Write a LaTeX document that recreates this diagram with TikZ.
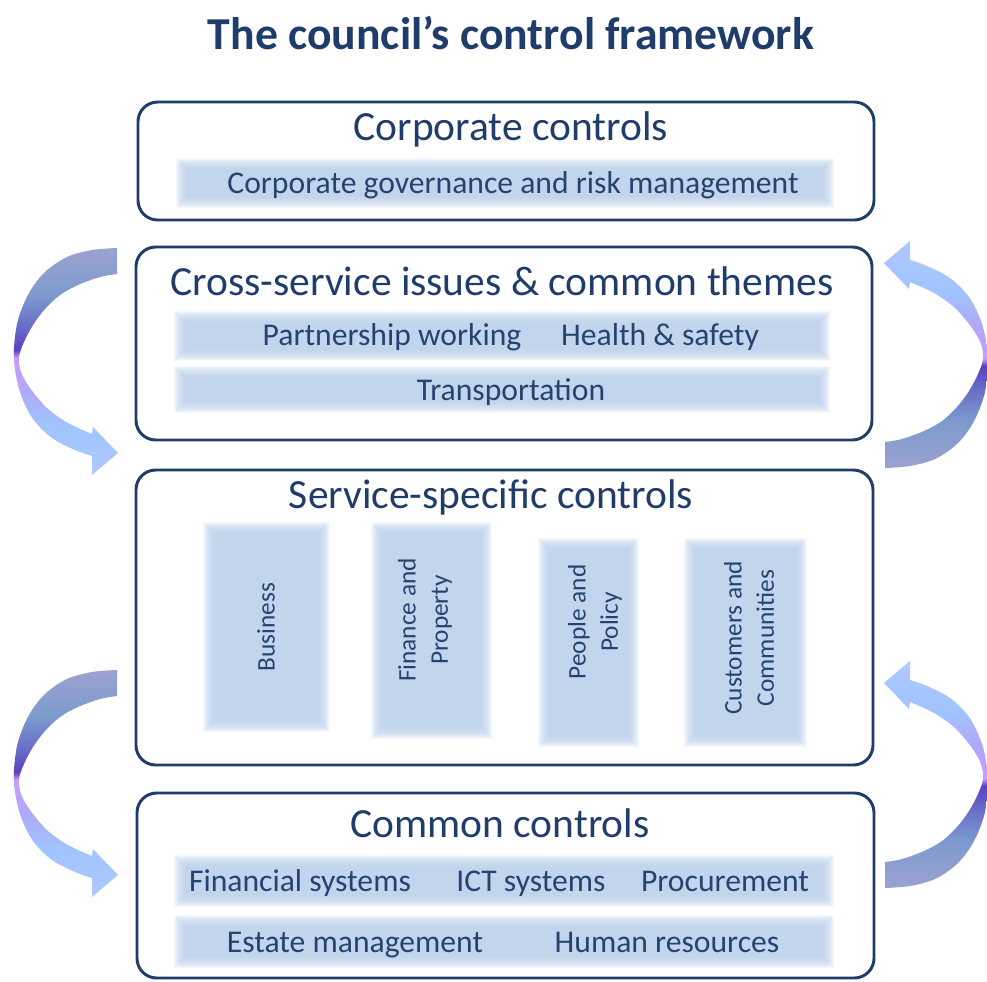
\documentclass[tikz,border=0pt]{standalone}
\usepackage{fontspec}
\setmainfont{Carlito}
\usetikzlibrary{fit}

\definecolor{navy}{HTML}{1F3C6B}
\definecolor{bartxt}{HTML}{26436F}
\definecolor{barblue}{HTML}{BBD0ED}
% colours along the cycle arrows, tail to head
\definecolor{cA}{HTML}{9CA2D0}
\definecolor{cB}{HTML}{7C9ACE}
\definecolor{cC}{HTML}{6A70C8}
\definecolor{cD}{HTML}{5C40C0}
\definecolor{cE}{HTML}{CC9CF8}
\definecolor{cF}{HTML}{B0A8F8}
\definecolor{cG}{HTML}{A0C4FF}
\definecolor{cH}{HTML}{B0C8FF}

% downward arrows: tail colour on top
\pgfdeclareverticalshading{cycledown}{100bp}{%
  color(0bp)=(cH); color(25bp)=(cH); color(36bp)=(cG); color(43.7bp)=(cF);
  color(50.8bp)=(cE); color(52.5bp)=(cD); color(58bp)=(cC); color(64.6bp)=(cB);
  color(75bp)=(cA); color(100bp)=(cA)}
% upward arrows: tail colour at the bottom
\pgfdeclareverticalshading{cycleup}{100bp}{%
  color(0bp)=(cA); color(25bp)=(cA); color(35.4bp)=(cB); color(42bp)=(cC);
  color(47.5bp)=(cD); color(49.2bp)=(cE); color(56.3bp)=(cF); color(64bp)=(cG);
  color(75bp)=(cH); color(100bp)=(cH)}

% soft-edged light blue band, corners given as (x1,y1) (x2,y2) with y measured downwards
\newcommand\softbar[4]{%
  \foreach \s in {0,1,...,11}{%
    \fill[barblue,opacity=0.14] ({#1+\s},{-#2-\s}) rectangle ({#3-\s},{-#4+\s});}}

% curved arrow running down the left side of a pair of panels,
% pinched where it is furthest out
\newcommand\cyclearrow[1]{%
  \shade[shading=#1]
    plot[smooth, tension=0.55] coordinates {(117,-248) (92,-250) (67,-257) (45,-272)
      (29,-293) (18,-320) (14,-348) (15,-370) (21,-395) (33,-419) (52,-438)
      (75,-450) (92,-456)}
    -- (92,-475) -- (118,-453) -- (93,-427) -- (92,-434)
    -- plot[smooth, tension=0.55] coordinates {(92,-434) (68,-423) (47,-408)
      (30,-388) (21,-372) (19,-357) (24,-342) (33,-325) (45,-309) (60,-295)
      (78,-285) (100,-277) (117,-274)}
    -- cycle;}

\begin{document}
\begin{tikzpicture}[x=0.025cm, y=0.025cm,
  panel/.style={draw=navy, line width=2.1pt, rounded corners=14pt, inner sep=0pt},
  heading/.style={text=navy, font=\fontsize{29.5}{33}\selectfont, inner sep=0pt,
    text height=21pt, text depth=6pt},
  item/.style={text=bartxt, font=\fontsize{22.5}{26}\selectfont, inner sep=0pt,
    text height=16pt, text depth=4.5pt},
  vitem/.style={text=bartxt, font=\fontsize{18}{23}\selectfont, inner sep=0pt,
    rotate=90, align=center},
  maintitle/.style={text=navy, font=\fontsize{32.5}{36}\selectfont\bfseries, inner sep=0pt}]

\fill[white] (0,0) rectangle (987,-981);
\useasboundingbox (0,0) rectangle (987,-981);

\node[maintitle] (title) at (511,-33) {The council’s control framework};

% ---- panels ----
\node[panel, fit={(138,-102) (874,-220)}] (corporate) {};
\node[panel, fit={(136,-247) (872,-440)}] (cross) {};
\node[panel, fit={(136,-470) (873,-765)}] (service) {};
\node[panel, fit={(137,-793) (874,-978)}] (common) {};

% ---- shaded bands ----
\softbar{176}{158}{834}{208}
\softbar{174}{311}{830}{361}
\softbar{174}{366}{830}{413}
\softbar{203}{522}{330}{732}
\softbar{371}{522}{492}{739}
\softbar{538}{538}{639}{747}
\softbar{684}{538}{807}{747}
\softbar{174}{855}{834}{907}
\softbar{174}{915}{834}{968}

% ---- corporate controls ----
\node[heading] (corph) at (511,-130) {Corporate controls};
\node[item] (gov) at (513,-185) {Corporate governance and risk management};

% ---- cross-service issues ----
\node[heading] (crossh) at (502,-285) {Cross-service issues \& common themes};
\node[item] (partner) at (392,-337) {Partnership working};
\node[item] (health) at (660,-337) {Health \& safety};
\node[item] (transport) at (511,-392) {Transportation};

% ---- service-specific controls ----
\node[heading] (serviceh) at (491,-498) {Service-specific controls};
\node[vitem] (business) at (266,-627) {Business};
\node[vitem] (finance) at (425,-620) {Finance and\\Property};
\node[vitem] (people) at (595,-622) {People and\\Policy};
\node[vitem] (customers) at (749,-638) {Customers and\\Communities};

% ---- common controls ----
\node[heading] (commonh) at (500,-827) {Common controls};
\node[item] (finsys) at (300,-883) {Financial systems};
\node[item] (ict) at (531,-883) {ICT systems};
\node[item] (procure) at (725,-883) {Procurement};
\node[item] (estate) at (355,-944) {Estate management};
\node[item] (hr) at (667,-944) {Human resources};

% ---- cycle arrows ----
\cyclearrow{cycledown}
\begin{scope}[shift={(0,-422)}]
  \cyclearrow{cycledown}
\end{scope}
\begin{scope}[rotate around={180:(501,-358)}]
  \cyclearrow{cycleup}
\end{scope}
\begin{scope}[rotate around={180:(501,-568)}]
  \cyclearrow{cycleup}
\end{scope}
\end{tikzpicture}
\end{document}
